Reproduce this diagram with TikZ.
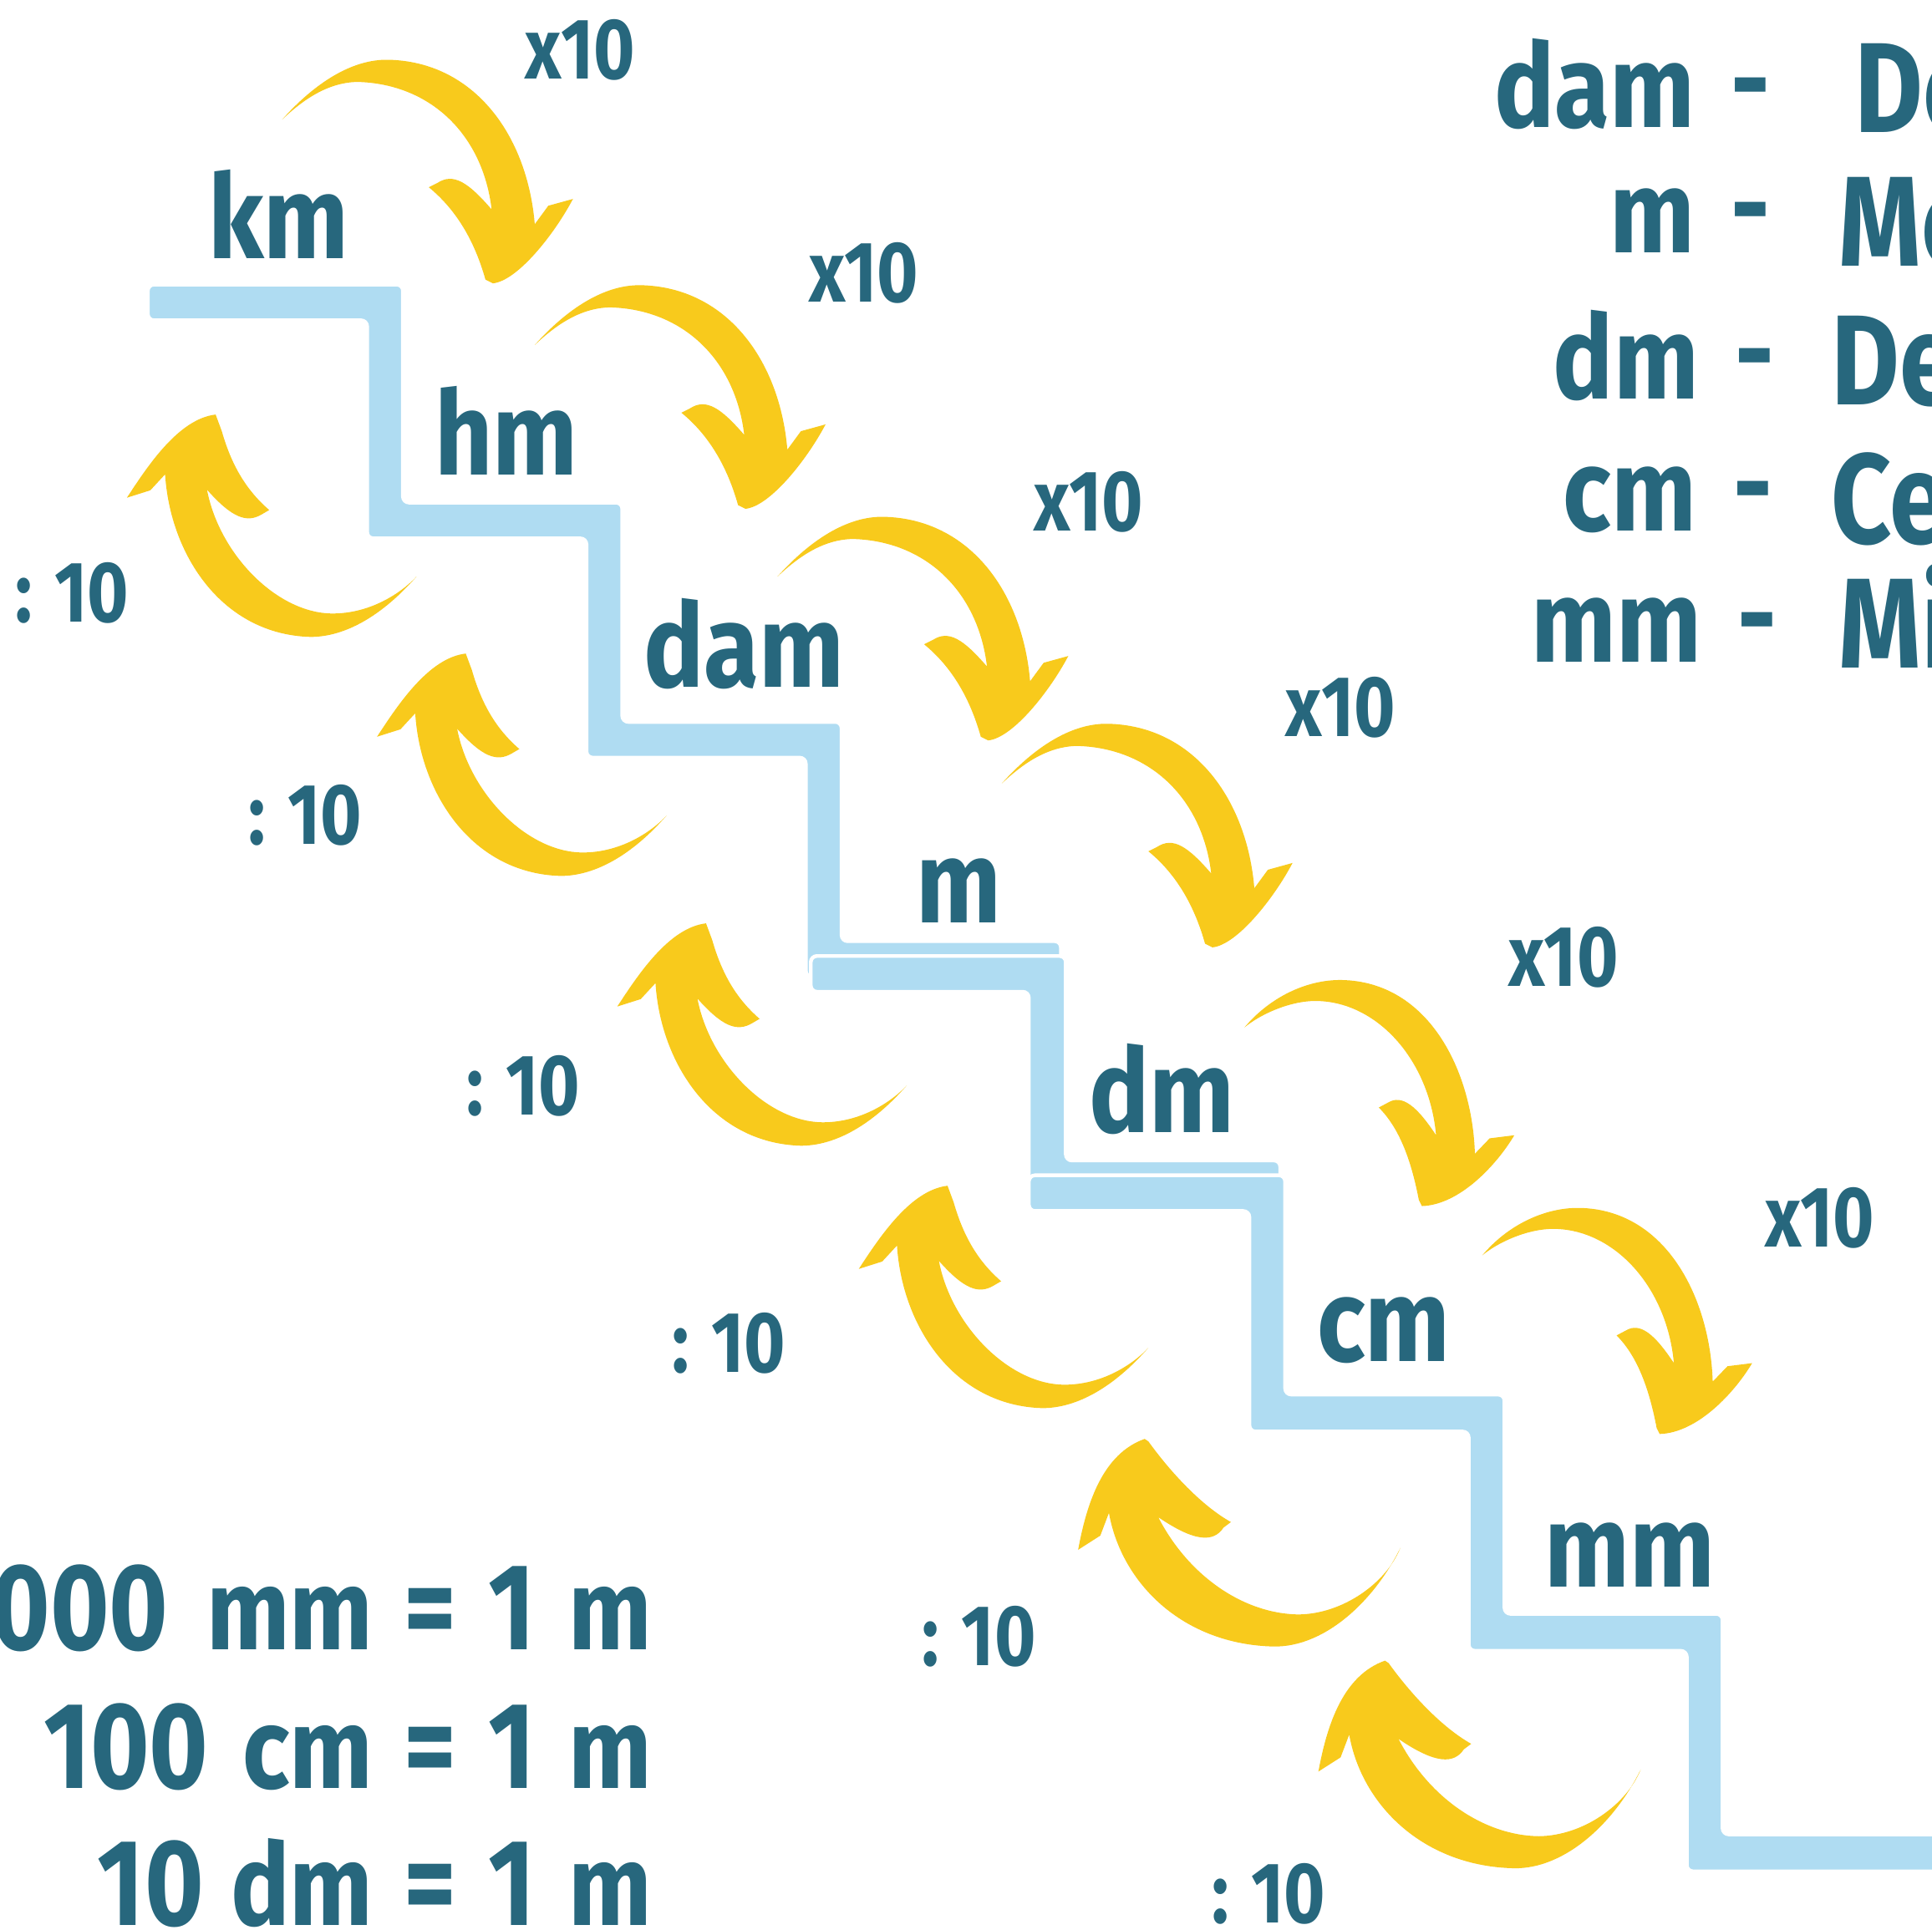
\documentclass[tikz,border=0pt]{standalone}
\usepackage{fontspec}
\newfontfamily\labfont{Fira Sans}[FakeStretch=0.82]
\newfontfamily\unitfont{Fira Sans}[FakeStretch=0.86]
\definecolor{txtc}{HTML}{27677D}
\definecolor{yelc}{HTML}{F8CA1C}
\definecolor{bluc}{HTML}{AFDCF2}
\tikzset{
  stairs/.style={fill=bluc, draw=white, line width=3pt, rounded corners=5pt},
  arrowfill/.style={fill=yelc},
  base/.style={text=txtc, inner sep=0pt},
  unitlab/.style={base, anchor=base, font=\unitfont\bfseries\fontsize{95}{95}\selectfont},
  factlab/.style={base, anchor=base, font=\labfont\bfseries\fontsize{70}{70}\selectfont},
  divlab/.style={base, anchor=base east, font=\labfont\bfseries\fontsize{70}{70}\selectfont},
  eqnum/.style={base, anchor=base east, font=\labfont\bfseries\fontsize{100}{100}\selectfont},
  equnit/.style={base, anchor=base east, font=\unitfont\bfseries\fontsize{93}{93}\selectfont},
  eqsym/.style={base, anchor=base, font=\labfont\bfseries\fontsize{100}{100}\selectfont},
  listunit/.style={base, anchor=base east, font=\unitfont\bfseries\fontsize{95}{95}\selectfont},
  listdash/.style={base, anchor=base, font=\labfont\bfseries\fontsize{95}{95}\selectfont},
  listword/.style={base, anchor=base west, font=\labfont\bfseries\fontsize{104}{104}\selectfont},
}
\newcommand\mulArrowA{%
\fill[arrowfill] (229,97) .. controls (255,68) and (285,48) .. (315,48.5)
 .. controls (385,50) and (428,110) .. (434,182)
 -- (445,167) -- (465,161.5)
 .. controls (450,190) and (420,228) .. (400,230)
 -- (394,227) .. controls (385,195) and (370,170) .. (348,152)
 -- (355,148.5) .. controls (368,140) and (380,148) .. (399,170)
 .. controls (392,110) and (350,68) .. (290,66.5)
 .. controls (265,67) and (245,82) .. (229,97) -- cycle;}
\newcommand\mulArrowB{%
\fill[arrowfill] (1010,834) .. controls (1030,810) and (1060,795) .. (1089,795.5)
 .. controls (1160,797) and (1195,870) .. (1197,936.5)
 -- (1209,924) -- (1229,921.5)
 .. controls (1215,945) and (1185,978) .. (1154,979)
 -- (1151.5,974) .. controls (1145,940) and (1135,915) .. (1119,899)
 -- (1126.5,895) .. controls (1138,888) and (1150,898) .. (1165.5,921.5)
 .. controls (1160,860) and (1117,812) .. (1066.5,812.5)
 .. controls (1045,813) and (1022,824) .. (1010,834) -- cycle;}
\newcommand\divArrowA{%
\fill[arrowfill] (338,468) .. controls (310,500) and (280,517) .. (252,517)
 .. controls (180,515) and (138,450) .. (134,385)
 -- (122,398) -- (103,404)
 .. controls (120,378) and (145,340) .. (175,336.5)
 -- (180,350) .. controls (188,378) and (200,398) .. (218.5,414)
 -- (212.5,417.5) .. controls (200,425) and (188,420) .. (168,397.5)
 .. controls (178,450) and (225,498) .. (270,498)
 .. controls (300,498) and (325,482) .. (338,468) -- cycle;}
\newcommand\divArrowB{%
\fill[arrowfill] (1136.5,1256.5) .. controls (1115,1300) and (1075,1337) .. (1034,1336.5)
 .. controls (960,1335) and (910,1285) .. (900,1228)
 -- (893,1246.5) -- (875,1258)
 .. controls (882,1220) and (895,1180) .. (929,1168)
 -- (932,1170) .. controls (950,1195) and (975,1222) .. (999,1235.5)
 -- (993,1240) .. controls (985,1252) and (970,1252) .. (940,1231.5)
 .. controls (965,1280) and (1010,1310) .. (1054,1310.5)
 .. controls (1090,1310) and (1125,1285) .. (1136.5,1256.5) -- cycle;}
\begin{document}
\begin{tikzpicture}[x=1pt,y=-1pt]
\useasboundingbox (0,0) rectangle (1568,1566);
\clip (0,0) rectangle (1568,1566);
% staircase
\filldraw[stairs] (120,231) -- (327,231) -- (327,408) -- (505,408) -- (505,586) -- (683,586) -- (683,764) -- (861,764) -- (861,793) -- (654,793) -- (654,615) -- (476,615) -- (476,437) -- (298,437) -- (298,260) -- (120,260) -- cycle;
\filldraw[stairs] (658,776) -- (865,776) -- (865,942) -- (1039,942) -- (1039,971) -- (835,971) -- (835,805) -- (658,805) -- cycle;
\filldraw[stairs] (835,954) -- (1043,954) -- (1043,1132) -- (1221,1132) -- (1221,1310) -- (1398,1310) -- (1398,1489) -- (1600,1489) -- (1600,1519) -- (1369,1519) -- (1369,1340) -- (1192,1340) -- (1192,1162) -- (1014,1162) -- (1014,983) -- (835,983) -- cycle;
% x10 arrows
\mulArrowA
\begin{scope}[shift={(205,183)}]\mulArrowA\end{scope}
\begin{scope}[shift={(402,371)}]\mulArrowA\end{scope}
\begin{scope}[shift={(584,539)}]\mulArrowA\end{scope}
\mulArrowB
\begin{scope}[shift={(193,185)}]\mulArrowB\end{scope}
% :10 arrows
\divArrowA
\begin{scope}[shift={(203,194)}]\divArrowA\end{scope}
\begin{scope}[shift={(398,413)}]\divArrowA\end{scope}
\begin{scope}[shift={(594,626)}]\divArrowA\end{scope}
\divArrowB
\begin{scope}[shift={(195,180)}]\divArrowB\end{scope}
% unit labels on the stairs
\node[unitlab] (km) at (226,210) {km};
\node[unitlab] (hm) at (411,385.5) {hm};
\node[unitlab] (dam) at (604,558) {dam};
\node[unitlab] (m) at (778,749) {m};
\node[unitlab] (dm) at (943,919) {dm};
\node[unitlab] (cm) at (1123,1105) {cm};
\node[unitlab] (mm) at (1322.5,1288) {mm};
% x10 labels
\node[factlab] (f1) at (471,64) {x10};
\node[factlab] (f2) at (701,245) {x10};
\node[factlab] (f3) at (883.5,431) {x10};
\node[factlab] (f4) at (1088,597.5) {x10};
\node[factlab] (f5) at (1269,800.5) {x10};
\node[factlab] (f6) at (1477,1012) {x10};
% :10 labels
\node[divlab] (d1) at (105,505) {: 10};
\node[divlab] (d2) at (294,685) {: 10};
\node[divlab] (d3) at (471,905) {: 10};
\node[divlab] (d4) at (638,1114) {: 10};
\node[divlab] (d5) at (841,1352) {: 10};
\node[divlab] (d6) at (1076,1561) {: 10};
% equations
\node[eqnum] (n1) at (137,1339) {1000};
\node[equnit] (u1) at (303,1339) {mm};
\node[eqsym] (e1) at (349.5,1339) {=};
\node[eqsym] (o1) at (415.5,1339) {1};
\node[equnit] (r1) at (529,1339) {m};
\node[eqnum] (n2) at (169.5,1451.5) {100};
\node[equnit] (u2) at (303,1451.5) {cm};
\node[eqsym] (e2) at (349.5,1451.5) {=};
\node[eqsym] (o2) at (415.5,1451.5) {1};
\node[equnit] (r2) at (529,1451.5) {m};
\node[eqnum] (n3) at (165.5,1563) {10};
\node[equnit] (u3) at (303,1563) {dm};
\node[eqsym] (e3) at (349.5,1563) {=};
\node[eqsym] (o3) at (415.5,1563) {1};
\node[equnit] (r3) at (529,1563) {m};
% list on the right
\node[listunit] (l1) at (1376,103.5) {dam};
\node[listdash] (h1) at (1420.5,98.5) {-};
\node[listword] (w1) at (1505,107.5) {Decâmetro};
\node[listunit] (l2) at (1376,205) {m};
\node[listdash] (h2) at (1420.5,200) {-};
\node[listword] (w2) at (1492,216) {Metro};
\node[listunit] (l3) at (1379,323.5) {dm};
\node[listdash] (h3) at (1424,318.5) {-};
\node[listword] (w3) at (1486,328.5) {Decímetro};
\node[listunit] (l4) at (1377,431) {cm};
\node[listdash] (h4) at (1423,426) {-};
\node[listword] (w4) at (1486,441.5) {Centímetro};
\node[listunit] (l5) at (1381,537.5) {mm};
\node[listdash] (h5) at (1426,532.5) {-};
\node[listword] (w5) at (1492,542.5) {Milímetro};
\end{tikzpicture}
\end{document}
